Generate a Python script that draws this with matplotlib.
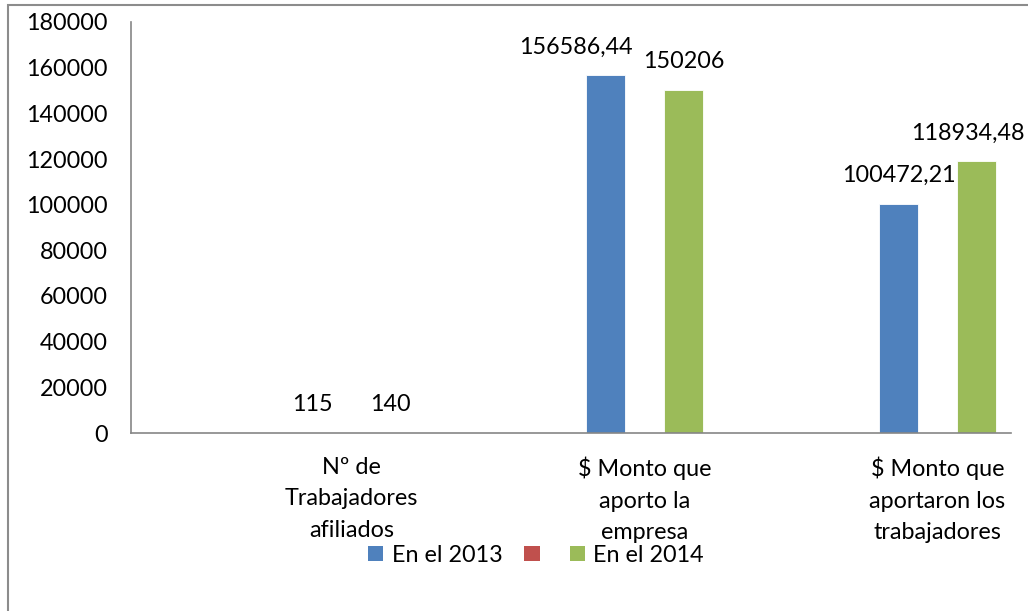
import matplotlib
matplotlib.use("Agg")
import matplotlib.pyplot as plt
from matplotlib.patches import Patch, Rectangle
import numpy as np

categories = ["Nº de\nTrabajadores\nafiliados", "$ Monto que\naporto la\nempresa", "$ Monto que\naportaron los\ntrabajadores"]
series_names = ["En el 2013", "", "En el 2014"]
values_2013 = [115, 156586.44, 100472.21]
values_mid = [np.nan, np.nan, np.nan]
values_2014 = [140, 150206, 118934.48]
label_2013 = ["115", "156586,44", "100472,21"]
label_2014 = ["140", "150206", "118934,48"]
yticks = [0, 20000, 40000, 60000, 80000, 100000, 120000, 140000, 160000, 180000]

colors = ["#4F81BD", "#C0504D", "#9BBB59"]
plt.rcParams['font.family'] = ['Lato', 'DejaVu Sans']
fs = 16.8

fig = plt.figure(figsize=(10.28, 6.11), dpi=100)
ax = fig.add_axes([131/1028, 1-433/611, (1011-131)/1028, (433-22)/611])

x = np.arange(len(categories))
w = 39/293
all_vals = [values_2013, values_mid, values_2014]
for i, (vals, c, name) in enumerate(zip(all_vals, colors, series_names)):
    ax.bar(x + (i-1)*w, vals, width=w, color=c, edgecolor='white', linewidth=0.6, label=name)

# data labels
dx13 = [0, -30, 0]
dx14 = [0, 0, -9]
for j in range(len(categories)):
    ax.annotate(label_2013[j], (x[j]-w, values_2013[j]), xytext=(dx13[j]*0.72, 13),
                textcoords='offset points', ha='center', va='bottom', fontsize=fs)
    ax.annotate(label_2014[j], (x[j]+w, values_2014[j]), xytext=(dx14[j]*0.72, 13),
                textcoords='offset points', ha='center', va='bottom', fontsize=fs,
                annotation_clip=False)

ax.set_xlim((131-351.5)/293, (1011-351.5)/293)
ax.set_ylim(0, 180000)
ax.set_yticks(yticks)
ax.set_yticklabels([str(v) for v in yticks], fontsize=fs)
ax.set_xticks(x)
ax.set_xticklabels(categories, fontsize=fs, linespacing=1.62)
ax.tick_params(axis='both', length=0)
ax.tick_params(axis='y', pad=17)
ax.tick_params(axis='x', pad=17)
for s in ['top', 'right']:
    ax.spines[s].set_visible(False)
for s in ['left', 'bottom']:
    ax.spines[s].set_color('#868686')
    ax.spines[s].set_linewidth(1.2)

handles = [Patch(facecolor=c, edgecolor='none') for c in colors]
leg = fig.legend(handles, series_names, loc='center', bbox_to_anchor=(536/1028, 1-555/611),
                 ncol=3, frameon=False, fontsize=fs, handlelength=0.65, handleheight=0.65,
                 handletextpad=0.35, columnspacing=0.95, borderpad=0)

# outer chart border
fig.patches.append(Rectangle((8/1028, -0.1), 1.2, 1.1 - 5/611, transform=fig.transFigure,
                             fill=False, edgecolor='#8c8c8c', linewidth=1.5))

fig.savefig("out.png", dpi=100)
